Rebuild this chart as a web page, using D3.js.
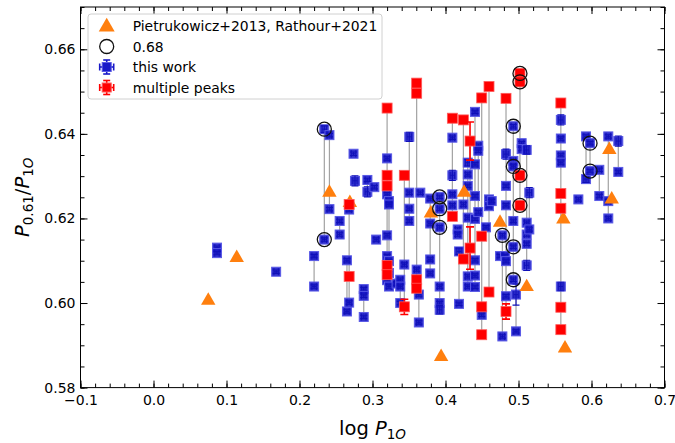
<!DOCTYPE html>
<html><head><meta charset="utf-8">
<script src="https://cdn.jsdelivr.net/npm/d3@7"></script>
<style>
body{margin:0;background:#fff}
svg{display:block;font-family:"DejaVu Sans",sans-serif}
</style>
</head><body>
<svg id="chart" width="675" height="443"></svg>
<script>
// ---- data: [log P1O, P0.61/P1O, sigma] ----
const SIG_DEFAULT = 0.0004;
const XERR = 0.003;

const thisWork = [
  [0.087,0.6131],[0.087,0.6118],
  [0.168,0.6074],
  [0.220,0.6111],[0.220,0.6039],
  [0.234,0.6411,0.0008],[0.234,0.6150],
  [0.241,0.6397],[0.241,0.6222],
  [0.255,0.6194],[0.255,0.6162],
  [0.265,0.6101],[0.265,0.5980],
  [0.268,0.6221],[0.268,0.6001],
  [0.274,0.6353],
  [0.276,0.6289,0.0012],
  [0.288,0.6033],[0.288,0.6017],[0.288,0.5967],
  [0.293,0.6291],[0.293,0.6263,0.0012],
  [0.3025,0.6274],
  [0.305,0.6150],
  [0.320,0.6342],[0.320,0.6257],[0.320,0.6160],[0.320,0.6111],[0.320,0.6054],
  [0.3226,0.6241],[0.3226,0.6233],[0.3226,0.6099],[0.3226,0.6071],[0.3226,0.6039],
  [0.333,0.6046],
  [0.338,0.6055],[0.338,0.6039],[0.338,0.6000],
  [0.3436,0.6091],
  [0.3504,0.6393,0.0011],[0.3504,0.6261],[0.3504,0.6223],[0.3504,0.6194],
  [0.3605,0.6079],
  [0.3635,0.6020],[0.3635,0.5954],
  [0.3655,0.6261],
  [0.379,0.6247],[0.379,0.6188],[0.379,0.6103],[0.379,0.6070],
  [0.392,0.6251],[0.392,0.6223],[0.392,0.6179],[0.392,0.6039],[0.392,0.6000],[0.392,0.5984,0.0010],
  [0.4094,0.6391],[0.4094,0.6302,0.0012],[0.4094,0.6257],[0.4094,0.6231],
  [0.4167,0.6174],[0.4167,0.6162],
  [0.4185,0.6122,0.0008],[0.4185,0.5998],
  [0.4245,0.6233],
  [0.4305,0.6332,0.0008],[0.4305,0.6304],[0.4305,0.6277],[0.4305,0.6202],[0.4305,0.6063],[0.4305,0.6039],
  [0.4404,0.6452],[0.4404,0.6328],[0.4404,0.6253],[0.4404,0.6199],[0.4404,0.6101],[0.4404,0.6065],[0.4404,0.6038],
  [0.4449,0.6372],[0.4449,0.6360],[0.4449,0.6215],
  [0.4496,0.5972],
  [0.4555,0.6179],
  [0.4596,0.6245],[0.4596,0.6229],
  [0.4633,0.6241],
  [0.4747,0.6111],
  [0.4779,0.6160],[0.4779,0.5921],
  [0.4815,0.6111],
  [0.4829,0.6352,0.0012],[0.4829,0.6277],[0.4829,0.6231],[0.4829,0.6099],[0.4829,0.6016],
  [0.4929,0.6418],[0.4929,0.6336],[0.4929,0.6323],[0.4929,0.6194],[0.4929,0.6133],[0.4929,0.6055],
  [0.4966,0.6020,0.0025],[0.4966,0.5933],
  [0.5043,0.6378],[0.5043,0.6364],
  [0.5112,0.6362,0.0010],[0.5112,0.6190],[0.5112,0.6162],[0.5112,0.6140],[0.5112,0.6089,0.0012],
  [0.5148,0.6261,0.0012],[0.5148,0.6174],
  [0.558,0.6433,0.0012],[0.558,0.6389],[0.558,0.6349],[0.558,0.6332],[0.558,0.6039,0.0010],
  [0.582,0.6245],
  [0.5925,0.6394],[0.5925,0.6293,0.0008],
  [0.598,0.6378],[0.598,0.6312],
  [0.6107,0.6315],[0.6107,0.6253],
  [0.623,0.6394],[0.623,0.6241],[0.623,0.6200],
  [0.6367,0.6383,0.0012],[0.6367,0.6310]
];

const multiplePeaks = [
  [0.268,0.6233],[0.268,0.6063],
  [0.320,0.6461],[0.320,0.6302],[0.320,0.6277],[0.320,0.6089],[0.320,0.6067],
  [0.3436,0.6302,0.0008],[0.3436,0.5991,0.0018],
  [0.3605,0.6520],[0.3605,0.6496],[0.3605,0.6055],[0.3605,0.6035],
  [0.4094,0.6437],[0.4094,0.6205],
  [0.4245,0.6433],[0.4245,0.6104],
  [0.4336,0.6383,0.0045],[0.4336,0.6130,0.0050],
  [0.4496,0.6485],[0.4496,0.6158],[0.4496,0.5991],[0.4496,0.5925],
  [0.4596,0.6512],[0.4596,0.6026],
  [0.4829,0.6484],[0.4829,0.5980,0.0018],
  [0.502,0.6543],[0.502,0.6523],[0.502,0.6302],[0.502,0.6231],
  [0.558,0.6473],[0.558,0.6259],[0.558,0.6224],[0.558,0.5990],[0.558,0.5937]
];

// Pietrukowicz+2013, Rathour+2021
const literature = [
  [0.075,0.6006],[0.114,0.6107],[0.241,0.6261],[0.269,0.6237],[0.380,0.6212],
  [0.394,0.5873],[0.4255,0.6261],[0.4747,0.6190],[0.5112,0.6038],[0.5614,0.6198],
  [0.5637,0.5893],[0.6244,0.6362],[0.6277,0.6245]
];

// signals flagged as 0.68
const ratio068 = [
  [0.234,0.6411],[0.234,0.6150],[0.392,0.6251],[0.392,0.6223],[0.392,0.6179],
  [0.4779,0.6160],[0.4929,0.6418],[0.4929,0.6323],[0.4929,0.6133],[0.4929,0.6055],
  [0.502,0.6543],[0.502,0.6523],[0.502,0.6302],[0.502,0.6231],[0.598,0.6378],[0.598,0.6312]
];

const xTicks = [-0.1,0.0,0.1,0.2,0.3,0.4,0.5,0.6,0.7];
const yTicks = [0.58,0.60,0.62,0.64,0.66];

// ---- layout ----
const svg = d3.select("#chart");
const L = 80.5, R = 664.5, T = 7, B = 387.6;
const x = d3.scaleLinear().domain([-0.1,0.7]).range([L,R]);
const y = d3.scaleLinear().domain([0.58,0.67]).range([B,T]);

const BLUE = "#1818c8", BLUE_EDGE = "#5a5ae6", BLUE_BAR = "#1010b8";
const RED = "#ff0000", RED_EDGE = "#ff5a5a";
const ORANGE = "#ff7f0e";

svg.append("defs").append("clipPath").attr("id","plotclip")
  .append("rect").attr("x",L).attr("y",T).attr("width",R-L).attr("height",B-T);
const plot = svg.append("g").attr("clip-path","url(#plotclip)");

// connecting lines between signals of the same star
const allPts = thisWork.concat(multiplePeaks);
const groups = d3.groups(allPts, d => d[0].toFixed(4));
plot.append("g").selectAll("line").data(groups.filter(g => g[1].length > 1)).join("line")
  .attr("x1", g => x(+g[0])).attr("x2", g => x(+g[0]))
  .attr("y1", g => y(d3.max(g[1], d => d[1])))
  .attr("y2", g => y(d3.min(g[1], d => d[1])))
  .attr("stroke","#a2a2a2").attr("stroke-width",1.2);

function drawErr(g, d, color, cap, w) {
  const cx = x(d[0]), cy = y(d[1]);
  const s = d[2] || SIG_DEFAULT;
  const y1 = y(d[1]+s), y2 = y(d[1]-s);
  g.append("line").attr("x1",cx).attr("x2",cx).attr("y1",y1).attr("y2",y2)
    .attr("stroke",color).attr("stroke-width",w);
  g.append("line").attr("x1",cx-cap).attr("x2",cx+cap).attr("y1",y1).attr("y2",y1)
    .attr("stroke",color).attr("stroke-width",w);
  g.append("line").attr("x1",cx-cap).attr("x2",cx+cap).attr("y1",y2).attr("y2",y2)
    .attr("stroke",color).attr("stroke-width",w);
  const xa = x(d[0]-XERR), xb = x(d[0]+XERR);
  g.append("line").attr("x1",xa).attr("x2",xb).attr("y1",cy).attr("y2",cy)
    .attr("stroke",color).attr("stroke-width",w*0.8);
  g.append("line").attr("x1",xa).attr("x2",xa).attr("y1",cy-cap).attr("y2",cy+cap)
    .attr("stroke",color).attr("stroke-width",w*0.8);
  g.append("line").attr("x1",xb).attr("x2",xb).attr("y1",cy-cap).attr("y2",cy+cap)
    .attr("stroke",color).attr("stroke-width",w*0.8);
}

// this work (blue)
const gBlue = plot.append("g");
thisWork.forEach(d => {
  const g = gBlue.append("g");
  g.append("rect").attr("x",x(d[0])-4.5).attr("y",y(d[1])-4.5).attr("width",9).attr("height",9)
    .attr("fill",BLUE).attr("fill-opacity",0.9).attr("stroke",BLUE_EDGE).attr("stroke-width",1);
  drawErr(g, d, BLUE_BAR, 3.5, 1.1);
});

// literature triangles
plot.append("g").selectAll("path").data(literature).join("path")
  .attr("d", d3.symbol().type(d3.symbolTriangle).size(90))
  .attr("transform", d => `translate(${x(d[0])},${y(d[1])})`)
  .attr("fill",ORANGE);

// multiple peaks (red)
const gRed = plot.append("g");
multiplePeaks.forEach(d => {
  const g = gRed.append("g");
  drawErr(g, d, RED, 4, 1.6);
  g.append("rect").attr("x",x(d[0])-5).attr("y",y(d[1])-5).attr("width",10).attr("height",10)
    .attr("fill",RED).attr("stroke",RED_EDGE).attr("stroke-width",0.8);
});

// 0.68 open circles
plot.append("g").selectAll("circle").data(ratio068).join("circle")
  .attr("cx", d => x(d[0])).attr("cy", d => y(d[1])).attr("r",7)
  .attr("fill","none").attr("stroke","#111").attr("stroke-width",1.3);

// ---- axes ----
const fmtX = d3.format(".1f"), fmtY = d3.format(".2f");
const minorX = d3.range(-0.1,0.7001,0.02);
const minorY = d3.range(0.58,0.67001,0.005);

function styleAxis(g){ g.select(".domain").remove(); g.selectAll("line").attr("stroke","#000").attr("stroke-width",1); }

svg.append("g").attr("transform",`translate(0,${B})`)
  .call(d3.axisBottom(x).tickValues(xTicks).tickSize(-7).tickPadding(7).tickFormat(fmtX))
  .call(styleAxis)
  .call(g => g.selectAll("text").attr("font-size",14).attr("font-family","DejaVu Sans").attr("fill","#000"));
svg.append("g").attr("transform",`translate(0,${B})`)
  .call(d3.axisBottom(x).tickValues(minorX).tickSize(-4).tickFormat("")).call(styleAxis);
svg.append("g").attr("transform",`translate(0,${T})`)
  .call(d3.axisTop(x).tickValues(xTicks).tickSize(-7).tickFormat("")).call(styleAxis);
svg.append("g").attr("transform",`translate(0,${T})`)
  .call(d3.axisTop(x).tickValues(minorX).tickSize(-4).tickFormat("")).call(styleAxis);

svg.append("g").attr("transform",`translate(${L},0)`)
  .call(d3.axisLeft(y).tickValues(yTicks).tickSize(-7).tickPadding(5).tickFormat(fmtY))
  .call(styleAxis)
  .call(g => g.selectAll("text").attr("font-size",14).attr("font-family","DejaVu Sans").attr("fill","#000"));
svg.append("g").attr("transform",`translate(${L},0)`)
  .call(d3.axisLeft(y).tickValues(minorY).tickSize(-4).tickFormat("")).call(styleAxis);
svg.append("g").attr("transform",`translate(${R},0)`)
  .call(d3.axisRight(y).tickValues(yTicks).tickSize(-7).tickFormat("")).call(styleAxis);
svg.append("g").attr("transform",`translate(${R},0)`)
  .call(d3.axisRight(y).tickValues(minorY).tickSize(-4).tickFormat("")).call(styleAxis);

svg.append("rect").attr("x",L).attr("y",T).attr("width",R-L).attr("height",B-T)
  .attr("fill","none").attr("stroke","#000").attr("stroke-width",1);

// axis titles
const xl = svg.append("text").attr("x",(L+R)/2).attr("y",435).attr("text-anchor","middle")
  .attr("font-size",19.5).attr("fill","#000");
xl.append("tspan").text("log ");
xl.append("tspan").attr("font-style","italic").text("P");
xl.append("tspan").attr("font-size",13.5).attr("dy",4).text("1");
xl.append("tspan").attr("font-size",13.5).attr("font-style","italic").text("O");

const yl = svg.append("text").attr("transform",`translate(29,${(T+B)/2}) rotate(-90)`)
  .attr("text-anchor","middle").attr("font-size",19.5).attr("fill","#000");
yl.append("tspan").attr("font-style","italic").text("P");
yl.append("tspan").attr("font-size",13.5).attr("dy",4).text("0.61");
yl.append("tspan").attr("dy",-4).text("/");
yl.append("tspan").attr("font-style","italic").text("P");
yl.append("tspan").attr("font-size",13.5).attr("dy",4).text("1");
yl.append("tspan").attr("font-size",13.5).attr("font-style","italic").text("O");

// ---- legend ----
const lg = svg.append("g");
lg.append("rect").attr("x",88).attr("y",14).attr("width",294).attr("height",85).attr("rx",3)
  .attr("fill","#fff").attr("fill-opacity",0.85).attr("stroke","#d0d0d0").attr("stroke-width",1);
const lx = 106.7, tx = 132.7;
const rows = [26, 46.5, 67, 87.5];
lg.append("path").attr("d", d3.symbol().type(d3.symbolTriangle).size(110)())
  .attr("transform",`translate(${lx},${rows[0]+1})`).attr("fill",ORANGE);
lg.append("circle").attr("cx",lx).attr("cy",rows[1]).attr("r",7).attr("fill","none")
  .attr("stroke","#111").attr("stroke-width",1.3);
function legendErr(cy, color, edge) {
  const g = lg.append("g");
  g.append("line").attr("x1",lx-7).attr("x2",lx+7).attr("y1",cy).attr("y2",cy).attr("stroke",color).attr("stroke-width",1.6);
  g.append("line").attr("x1",lx).attr("x2",lx).attr("y1",cy-7).attr("y2",cy+7).attr("stroke",color).attr("stroke-width",1.6);
  [[-7,0],[7,0]].forEach(o => g.append("line").attr("x1",lx+o[0]).attr("x2",lx+o[0]).attr("y1",cy-3.5).attr("y2",cy+3.5).attr("stroke",color).attr("stroke-width",1.6));
  [[0,-7],[0,7]].forEach(o => g.append("line").attr("x1",lx-3.5).attr("x2",lx+3.5).attr("y1",cy+o[1]).attr("y2",cy+o[1]).attr("stroke",color).attr("stroke-width",1.6));
  g.append("rect").attr("x",lx-4.5).attr("y",cy-4.5).attr("width",9).attr("height",9).attr("fill",color).attr("stroke",edge);
}
legendErr(rows[2], BLUE, BLUE_EDGE);
legendErr(rows[3], RED, RED_EDGE);
const labels = ["Pietrukowicz+2013, Rathour+2021","0.68","this work","multiple peaks"];
lg.selectAll("text.lab").data(labels).join("text").attr("class","lab")
  .attr("x",tx).attr("y",(d,i) => rows[i]+5).attr("font-size",13.9).attr("fill","#000").text(d => d);
</script>
</body></html>
